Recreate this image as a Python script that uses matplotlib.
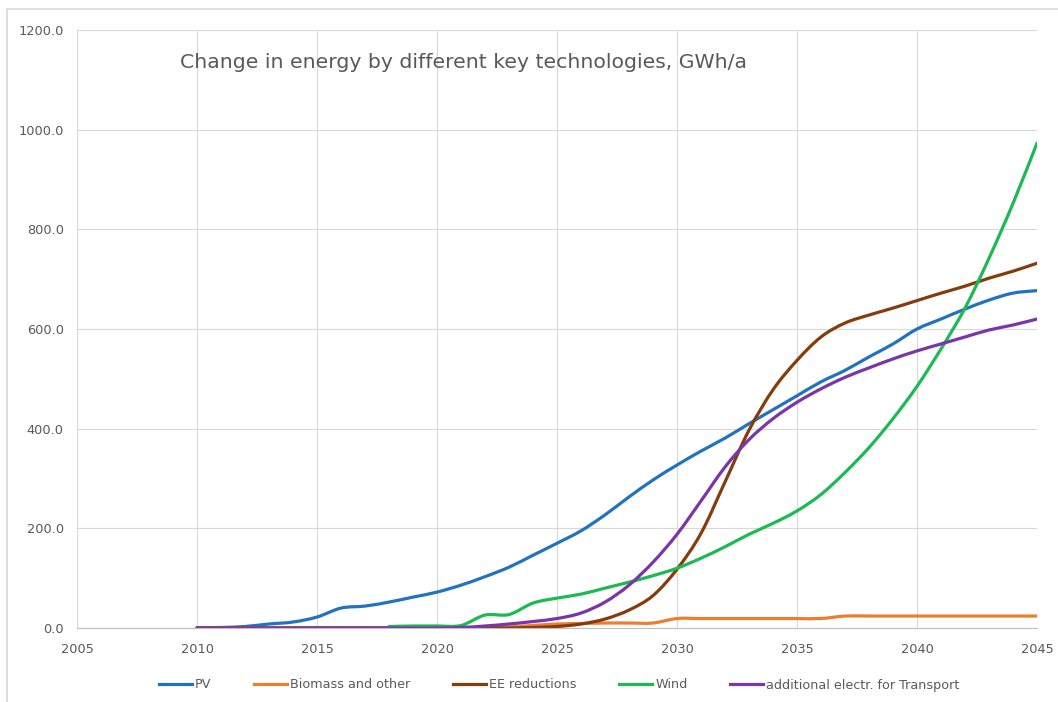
import numpy as np
import matplotlib
matplotlib.use("Agg")
import matplotlib.pyplot as plt
from matplotlib.patches import Rectangle, PathPatch
from matplotlib.path import Path
from matplotlib.lines import Line2D

# yearly values, GWh/a
years = list(range(2010, 2046))

pv = [0, 1, 3, 8, 12, 22, 40, 44, 52, 62, 72, 86, 103, 122, 146, 170, 195, 227,
      263, 297, 327, 355, 381, 410, 438, 466, 494, 517, 544, 570, 600, 620, 640,
      658, 672, 677]
biomass = [0, 0, 0, 0, 0, 0, 0, 0, 0, 0, 0, 0, 0, 2, 5, 8, 9, 10, 10, 10, 19,
           19, 19, 19, 19, 19, 19, 24, 24, 24, 24, 24, 24, 24, 24, 24]
ee_red = [0, 0, 0, 0, 0, 0, 0, 0, 0, 0, 0, 0, 0, 0, 1, 3, 8, 18, 36, 65, 118,
          190, 293, 397, 478, 537, 584, 612, 628, 642, 657, 672, 686, 702, 716,
          732]
wind = [np.nan] * 8 + [3, 4, 4, 5, 26, 27, 50, 60, 68, 80, 92, 105, 120, 140,
                       163, 188, 210, 235, 268, 312, 362, 420, 485, 560, 642,
                       742, 852, 973]
transport = [0, 0, 0, 0, 0, 0, 0, 0, 0, 0, 0, 1, 4, 8, 13, 19, 30, 52, 86, 132,
             188, 255, 323, 378, 420, 453, 480, 503, 522, 540, 556, 570, 584,
             598, 608, 620]

labels = ["PV", "Biomass and other", "EE reductions", "Wind",
          "additional electr. for Transport"]
colors = ["#2372be", "#ed7d31", "#843c0c", "#1db954", "#7a35a8"]
series = [pv, biomass, ee_red, wind, transport]

x_ticks = list(range(2005, 2050, 5))
y_ticks = list(range(0, 1400, 200))

text_col = "#595959"


# Excel style "smoothed line": cubic bezier through the data points
def smooth_path(xs, ys):
    pts = [(x, y) for x, y in zip(xs, ys) if not np.isnan(y)]
    verts = [pts[0]]
    codes = [Path.MOVETO]
    n = len(pts)
    for i in range(n - 1):
        p0 = pts[max(i - 1, 0)]
        p1 = pts[i]
        p2 = pts[i + 1]
        p3 = pts[min(i + 2, n - 1)]
        c1 = (p1[0] + (p2[0] - p0[0]) / 6, p1[1] + (p2[1] - p0[1]) / 6)
        c2 = (p2[0] - (p3[0] - p1[0]) / 6, p2[1] - (p3[1] - p1[1]) / 6)
        verts += [c1, c2, p2]
        codes += [Path.CURVE4] * 3
    return Path(verts, codes)


fig = plt.figure(figsize=(10.58, 7.02), dpi=100)
ax = fig.add_axes([77 / 1058, 74 / 702, 960 / 1058, 598 / 702])

handles = []
for vals, lab, col in zip(series, labels, colors):
    ax.add_patch(PathPatch(smooth_path(years, vals), fill=False, edgecolor=col,
                           lw=2.3, capstyle='round', joinstyle='round'))
    handles.append(Line2D([], [], color=col, lw=2.3, label=lab))

ax.set_xlim(2005, 2045)
ax.set_ylim(0, 1200)
ax.set_xticks(x_ticks)
ax.set_yticks(y_ticks)
ax.set_yticklabels([f"{v:.1f}" for v in y_ticks])
ax.grid(True, color="#d9d9d9", lw=0.8)
ax.set_axisbelow(True)
for s in ["top", "right", "left"]:
    ax.spines[s].set_visible(False)
ax.spines["bottom"].set_color("#bfbfbf")
ax.tick_params(axis="both", length=0, labelsize=9.3, labelcolor=text_col)
ax.tick_params(axis="y", pad=9.5)
ax.tick_params(axis="x", pad=11)

fig.text(180 / 1058, 1 - 62 / 702, "Change in energy by different key technologies, GWh/a",
         fontsize=14.7, color=text_col, va="center", ha="left")

fig.legend(handles=handles, loc="center", bbox_to_anchor=(559 / 1058, 1 - 685 / 702),
           ncol=5, frameon=False, fontsize=9.2, handlelength=2.6, handletextpad=0.25,
           columnspacing=3.3, labelcolor=text_col)

fig.patches.append(Rectangle((7 / 1058, -0.1), 1.2, 1.1 - 9 / 702, fill=False,
                             edgecolor="#d9d9d9", lw=1.2, transform=fig.transFigure))

fig.savefig("out.png", dpi=100)
